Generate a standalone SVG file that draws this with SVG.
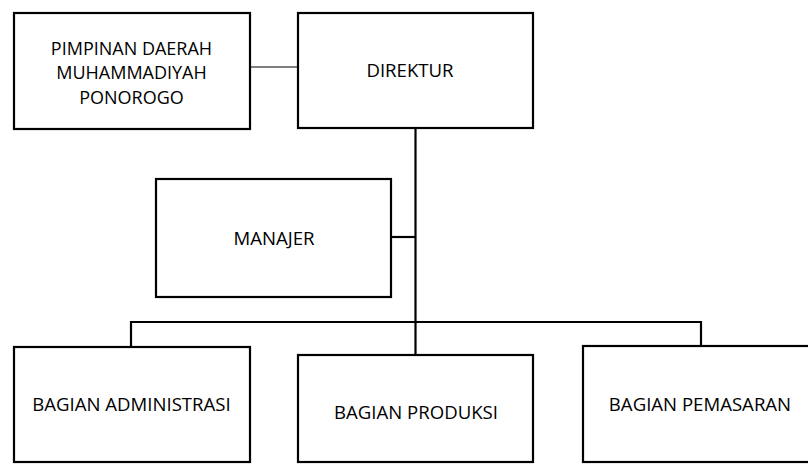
<svg xmlns="http://www.w3.org/2000/svg" width="808" height="464" viewBox="0 0 808 464">
<style>
.box{fill:#fff;stroke:#000;stroke-width:2.2}
.lbl{font-family:"Open Sans","Liberation Sans",sans-serif;font-size:18.6px;fill:#000;text-anchor:middle}
.sm{font-size:18px}
.con{stroke:#000;stroke-width:2.2;fill:none}
.thin{stroke:#000;stroke-width:1.2;fill:none}
</style>
<rect width="808" height="464" fill="#fff"/>
<g id="connectors">
<line class="thin" x1="250" y1="67" x2="298" y2="67"/>
<line class="con" x1="415.5" y1="128" x2="415.5" y2="355"/>
<line class="con" x1="391" y1="237" x2="415.5" y2="237"/>
<polyline class="con" points="131,347 131,322 701,322 701,346"/>
</g>
<g id="pimpinan">
<rect class="box" x="14" y="13" width="236" height="116"/>
<text class="lbl sm" x="131.5" y="54.5">PIMPINAN DAERAH</text>
<text class="lbl sm" x="131.5" y="79">MUHAMMADIYAH</text>
<text class="lbl sm" x="131.5" y="103.5">PONOROGO</text>
</g>
<g id="direktur">
<rect class="box" x="298" y="13" width="235" height="115"/>
<text class="lbl" x="410" y="77">DIREKTUR</text>
</g>
<g id="manajer">
<rect class="box" x="156" y="179" width="235" height="118"/>
<text class="lbl" x="274" y="245">MANAJER</text>
</g>
<g id="administrasi">
<rect class="box" x="14" y="347" width="236" height="115"/>
<text class="lbl" x="131.5" y="411">BAGIAN ADMINISTRASI</text>
</g>
<g id="produksi">
<rect class="box" x="298" y="355" width="235" height="107"/>
<text class="lbl" x="416" y="419">BAGIAN PRODUKSI</text>
</g>
<g id="pemasaran">
<rect class="box" x="583" y="346" width="234" height="116"/>
<text class="lbl" x="700" y="411">BAGIAN PEMASARAN</text>
</g>
</svg>
